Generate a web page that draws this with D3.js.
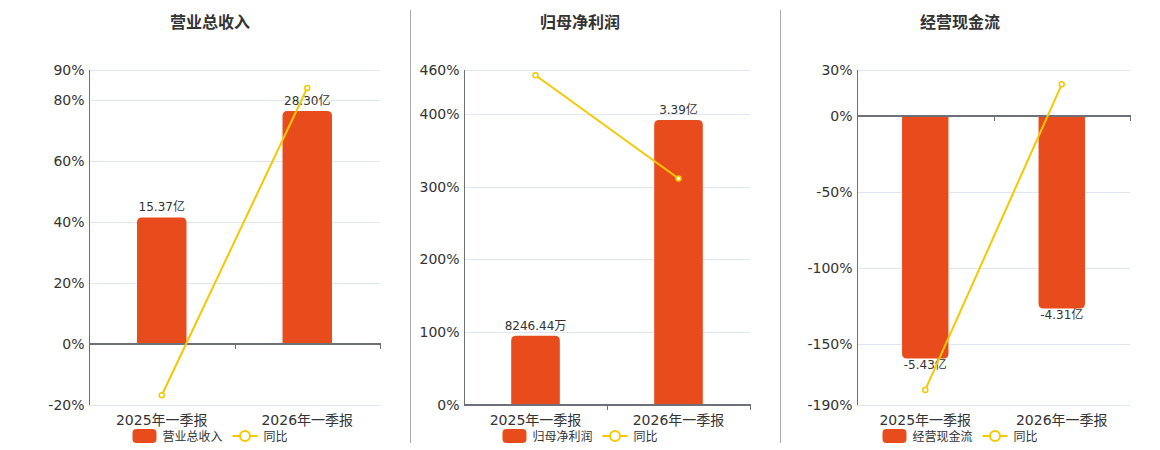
<!DOCTYPE html>
<html>
<head>
<meta charset="utf-8">
<script src="https://cdn.jsdelivr.net/npm/d3@7"></script>
<style>
  body { margin: 0; background: #fff; }
  svg text { font-family: "DejaVu Sans", "Noto Sans CJK SC", sans-serif; }
</style>
</head>
<body>
<div id="chart"></div>
<script>
// données
const categories = ['2025年一季报', '2026年一季报'];

const revenue = [15.37, 28.30];
const revenueLabels = ['15.37亿', '28.30亿'];
const revenueYoy = [-16.8, 84.1];
const revenueTicks = [-20, 0, 20, 40, 60, 80, 90];
const revenueBarDomain = [-7.41, 33.28];

const profit = [0.824644, 3.39];
const profitLabels = ['8246.44万', '3.39亿'];
const profitYoy = [452.8, 311.1];
const profitTicks = [0, 100, 200, 300, 400, 460];
const profitBarDomain = [0, 3.985];

const cashflow = [-5.43, -4.31];
const cashflowLabels = ['-5.43亿', '-4.31亿'];
const cashflowYoy = [-180.1, 20.6];
const cashflowTicks = [-190, -150, -100, -50, 0, 30];
const cashflowBarDomain = [-6.47, 1.02];

const barColor = '#e84c1d';
const lineColor = '#f5c800';

// mise en page des trois panneaux
const panels = [
    { title: '营业总收入', cx: 210, left: 89, right: 380, bars: revenue, labels: revenueLabels, yoy: revenueYoy, ticks: revenueTicks, barDomain: revenueBarDomain },
    { title: '归母净利润', cx: 580, left: 464, right: 750, bars: profit, labels: profitLabels, yoy: profitYoy, ticks: profitTicks, barDomain: profitBarDomain },
    { title: '经营现金流', cx: 960, left: 857, right: 1130, bars: cashflow, labels: cashflowLabels, yoy: cashflowYoy, ticks: cashflowTicks, barDomain: cashflowBarDomain }
];

const plotTop = 70, plotBottom = 405;

const svg = d3.select('#chart').append('svg')
    .attr('width', 1160)
    .attr('height', 450);

// séparateurs verticaux
[410.5, 780.5].forEach(x => {
    svg.append('line')
        .attr('x1', x).attr('x2', x)
        .attr('y1', 10).attr('y2', 443)
        .attr('stroke', '#aaa');
});

// coins arrondis du côté de la valeur
function barPath(x, w, y0, y1, r) {
    const up = y1 < y0;
    const h = Math.abs(y1 - y0);
    r = Math.min(r, h, w / 2);
    if (up) {
        return `M${x},${y0}V${y1 + r}Q${x},${y1} ${x + r},${y1}H${x + w - r}Q${x + w},${y1} ${x + w},${y1 + r}V${y0}Z`;
    }
    return `M${x},${y0}V${y1 - r}Q${x},${y1} ${x + r},${y1}H${x + w - r}Q${x + w},${y1} ${x + w},${y1 - r}V${y0}Z`;
}

panels.forEach(p => {
    const g = svg.append('g');

    const x = d3.scaleBand()
        .domain(categories)
        .range([p.left, p.right]);

    const y = d3.scaleLinear()
        .domain([p.ticks[0], p.ticks[p.ticks.length - 1]])
        .range([plotBottom, plotTop]);

    const yBar = d3.scaleLinear()
        .domain(p.barDomain)
        .range([plotBottom, plotTop]);

    // titre
    g.append('text')
        .attr('x', p.cx)
        .attr('y', 28)
        .attr('text-anchor', 'middle')
        .attr('font-size', 16)
        .attr('font-weight', 'bold')
        .attr('fill', '#333')
        .text(p.title);

    // grille
    g.selectAll('.grid')
        .data(p.ticks)
        .enter()
        .append('line')
        .attr('x1', p.left).attr('x2', p.right)
        .attr('y1', d => Math.round(y(d)) + 0.5)
        .attr('y2', d => Math.round(y(d)) + 0.5)
        .attr('stroke', '#e0e6f1');

    // axe vertical
    const yAxis = g.append('g')
        .attr('transform', `translate(${p.left + 0.5},0)`)
        .call(d3.axisLeft(y).tickValues(p.ticks).tickSize(0).tickPadding(5).tickFormat(d => d + '%'));
    yAxis.select('.domain').attr('stroke', '#6e7079').attr('d', `M0,${plotTop}V${plotBottom}`);
    yAxis.selectAll('.tick text')
        .attr('font-size', 14)
        .attr('fill', '#333')
        .style('font-family', '"DejaVu Sans", "Noto Sans CJK SC", sans-serif');

    // barres
    const bw = x.bandwidth() * 0.34;
    g.selectAll('.bar')
        .data(p.bars)
        .enter()
        .append('path')
        .attr('fill', barColor)
        .attr('d', (d, i) => barPath(x(categories[i]) + (x.bandwidth() - bw) / 2, bw, yBar(0), yBar(d), 5));

    // axe horizontal sur le zéro
    const y0 = Math.round(y(0));
    g.append('line')
        .attr('x1', p.left).attr('x2', p.right + 1)
        .attr('y1', y0).attr('y2', y0)
        .attr('stroke', '#6e7079')
        .attr('stroke-width', 2);
    categories.forEach(c => {
        const tx = Math.round(x(c) + x.bandwidth()) + 0.5;
        g.append('line')
            .attr('x1', tx).attr('x2', tx)
            .attr('y1', y0).attr('y2', y0 + 5)
            .attr('stroke', '#6e7079');
    });

    // libellés des catégories
    g.selectAll('.cat')
        .data(categories)
        .enter()
        .append('text')
        .attr('x', d => x(d) + x.bandwidth() / 2)
        .attr('y', 425)
        .attr('text-anchor', 'middle')
        .attr('font-size', 14)
        .attr('fill', '#333')
        .text(d => d);

    // valeurs des barres
    g.selectAll('.val')
        .data(p.bars)
        .enter()
        .append('text')
        .attr('x', (d, i) => x(categories[i]) + x.bandwidth() / 2)
        .attr('y', d => d >= 0 ? yBar(d) - 6 : yBar(d) + 11)
        .attr('text-anchor', 'middle')
        .attr('font-size', 12)
        .attr('fill', '#333')
        .text((d, i) => p.labels[i]);

    // courbe du taux de croissance
    const line = d3.line()
        .x((d, i) => x(categories[i]) + x.bandwidth() / 2)
        .y(d => y(d));

    g.append('path')
        .datum(p.yoy)
        .attr('d', line)
        .attr('fill', 'none')
        .attr('stroke', lineColor)
        .attr('stroke-width', 2);

    g.selectAll('.pt')
        .data(p.yoy)
        .enter()
        .append('circle')
        .attr('cx', (d, i) => x(categories[i]) + x.bandwidth() / 2)
        .attr('cy', d => y(d))
        .attr('r', 2.5)
        .attr('fill', '#fff')
        .attr('stroke', lineColor)
        .attr('stroke-width', 1.5);

    // légende
    const lg = g.append('g');
    lg.append('rect')
        .attr('x', 0).attr('y', -7)
        .attr('width', 24).attr('height', 14)
        .attr('rx', 4)
        .attr('fill', barColor);
    const t1 = lg.append('text')
        .attr('x', 30).attr('y', 4.5)
        .attr('font-size', 12)
        .attr('fill', '#333')
        .text(p.title);
    const x1 = 30 + t1.node().getComputedTextLength() + 10;
    lg.append('line')
        .attr('x1', x1).attr('x2', x1 + 25)
        .attr('y1', 0).attr('y2', 0)
        .attr('stroke', lineColor)
        .attr('stroke-width', 2);
    lg.append('circle')
        .attr('cx', x1 + 12.5).attr('cy', 0)
        .attr('r', 5)
        .attr('fill', '#fff')
        .attr('stroke', lineColor)
        .attr('stroke-width', 2);
    const t2 = lg.append('text')
        .attr('x', x1 + 31).attr('y', 4.5)
        .attr('font-size', 12)
        .attr('fill', '#333')
        .text('同比');
    const total = x1 + 31 + t2.node().getComputedTextLength();
    lg.attr('transform', `translate(${p.cx - total / 2},436)`);
});
</script>
</body>
</html>
